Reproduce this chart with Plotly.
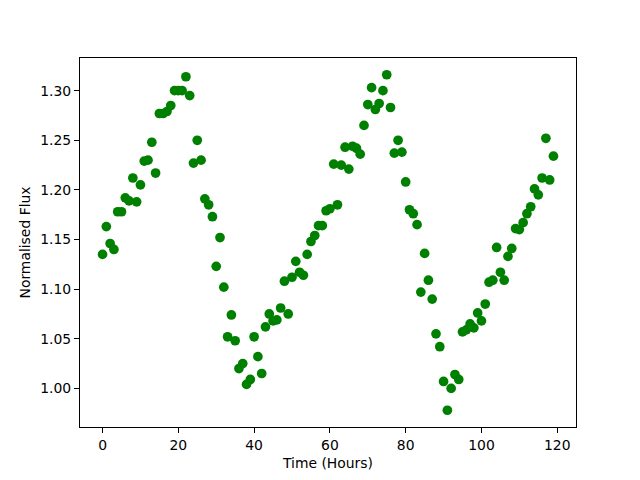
import plotly.graph_objects as go

hours = list(range(120))
flux = [
    1.135, 1.163, 1.146, 1.140, 1.178, 1.178, 1.192, 1.189, 1.212, 1.188,
    1.205, 1.229, 1.230, 1.248, 1.217, 1.277, 1.277, 1.279, 1.285, 1.300,
    1.300, 1.300, 1.314, 1.295, 1.227, 1.250, 1.230, 1.191, 1.185, 1.173,
    1.123, 1.152, 1.102, 1.052, 1.074, 1.048, 1.020, 1.025, 1.004, 1.009,
    1.052, 1.032, 1.015, 1.062, 1.075, 1.068, 1.069, 1.081, 1.108, 1.075,
    1.112, 1.128, 1.117, 1.114, 1.135, 1.148, 1.154, 1.164, 1.164, 1.179,
    1.181, 1.226, 1.185, 1.225, 1.243, 1.221, 1.244, 1.242, 1.236, 1.265,
    1.286, 1.303, 1.281, 1.287, 1.300, 1.316, 1.283, 1.237, 1.250, 1.238,
    1.208, 1.180, 1.176, 1.165, 1.097, 1.136, 1.109, 1.090, 1.055, 1.042,
    1.007, 0.978, 1.000, 1.014, 1.009, 1.057, 1.059, 1.065, 1.061, 1.076,
    1.068, 1.085, 1.107, 1.109, 1.142, 1.117, 1.109, 1.133, 1.141, 1.161,
    1.160, 1.167, 1.176, 1.183, 1.201, 1.195, 1.212, 1.252, 1.210, 1.234,
]
x_ticks = [0, 20, 40, 60, 80, 100, 120]
y_ticks = [1.00, 1.05, 1.10, 1.15, 1.20, 1.25, 1.30]

fig = go.Figure(go.Scatter(
    x=hours, y=flux, mode="markers",
    marker=dict(color="#008000", size=9.7, line=dict(width=0)),
))

xmin, xmax = min(hours), max(hours)
ymin, ymax = min(flux), max(flux)
xm = 0.05 * (xmax - xmin)
ym = 0.05 * (ymax - ymin)

fs = 13.9
axis_common = dict(
    showgrid=False, zeroline=False, showline=True, linecolor="black",
    linewidth=1, mirror=True, ticks="outside", ticklen=5, tickwidth=1,
    tickcolor="black", tickfont=dict(size=fs, color="black"),
)
fig.update_layout(
    width=640, height=480,
    margin=dict(l=72, r=72, t=50, b=61, autoexpand=False),
    paper_bgcolor="white", plot_bgcolor="white",
    font=dict(family="DejaVu Sans", size=fs, color="black"),
    showlegend=False,
    xaxis=dict(range=[xmin - xm, xmax + xm], tickvals=x_ticks,
               title=dict(text="Time (Hours)", standoff=6, font=dict(size=fs)),
               **axis_common),
    yaxis=dict(range=[ymin - ym, ymax + ym], tickvals=y_ticks, tickformat=".2f",
               title=dict(text="Normalised Flux", standoff=6, font=dict(size=fs)),
               **axis_common),
)
fig.write_html("out.html")
